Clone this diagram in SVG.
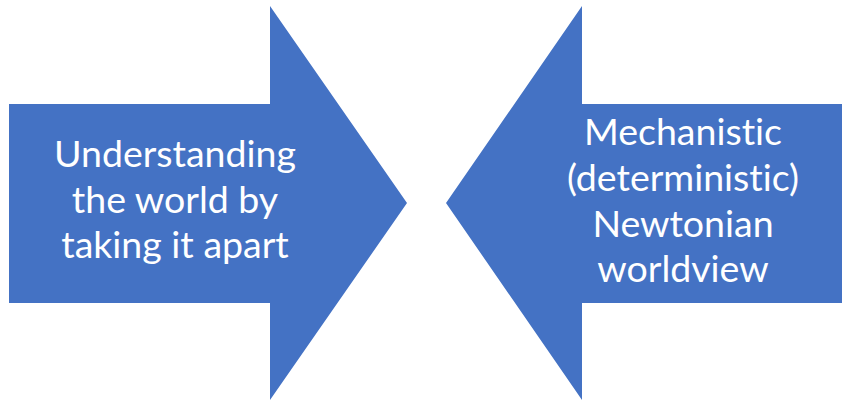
<svg xmlns="http://www.w3.org/2000/svg" width="842" height="403" viewBox="0 0 842 403">
<style>
.arrow{fill:#4472C4}
.lbl{fill:#FFFFFF;font-family:Lato,"Open Sans",sans-serif;font-size:37.5px;text-anchor:middle;font-variant-ligatures:none}
</style>
<rect width="842" height="403" fill="#FFFFFF"/>
<g id="left-arrow">
<polygon class="arrow" points="9,104 270,104 270,6 407,203 270,400 270,303 9,303"/>
<text class="lbl"><tspan x="175" y="167">Understanding</tspan><tspan x="175" y="213">the world by</tspan><tspan x="175" y="258">taking it apart</tspan></text>
</g>
<g id="right-arrow">
<polygon class="arrow" points="842,104 582,104 582,6 446,203 582,400 582,303 842,303"/>
<text class="lbl"><tspan x="683" y="145">Mechanistic</tspan><tspan x="683" y="191">(deterministic)</tspan><tspan x="683" y="237">Newtonian</tspan><tspan x="683" y="282">worldview</tspan></text>
</g>
<g id="connectors"/>
</svg>
